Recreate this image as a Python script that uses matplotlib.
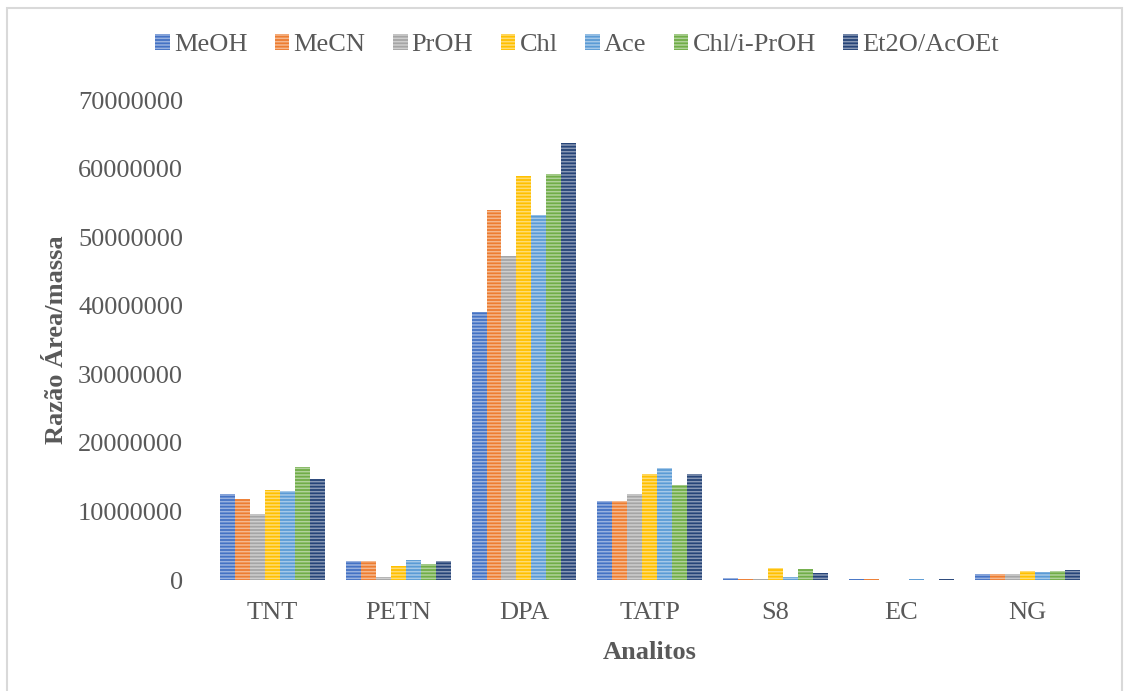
import numpy as np
import matplotlib
matplotlib.use("Agg")
import matplotlib.pyplot as plt
from matplotlib.colors import to_rgb
from matplotlib.patches import Rectangle

plt.rcParams['font.family'] = ['Liberation Serif', 'DejaVu Serif']
plt.rcParams['hatch.linewidth'] = 1.1

analitos = ["TNT", "PETN", "DPA", "TATP", "S8", "EC", "NG"]
solventes = ["MeOH", "MeCN", "PrOH", "Chl", "Ace", "Chl/i-PrOH", "Et2O/AcOEt"]
cores = ["#4472C4", "#ED7D31", "#A5A5A5", "#FFC000", "#5B9BD5", "#70AD47", "#264478"]

# razao area/massa por solvente, na ordem dos analitos
meoh = [12500000, 2800000, 39100000, 11500000, 250000, 100000, 900000]
mecn = [11800000, 2800000, 53900000, 11500000, 150000, 80000, 900000]
proh = [9600000, 500000, 47300000, 12500000, 150000, 0, 900000]
chl = [13100000, 2100000, 58900000, 15400000, 1700000, 0, 1300000]
ace = [13000000, 2900000, 53300000, 16300000, 450000, 80000, 1150000]
chl_iproh = [16500000, 2300000, 59200000, 13900000, 1600000, 0, 1300000]
et2o_acoet = [14700000, 2800000, 63800000, 15500000, 1000000, 80000, 1450000]
series = [meoh, mecn, proh, chl, ace, chl_iproh, et2o_acoet]


def clarear(cor, f=0.45):
    r, g, b = to_rgb(cor)
    return (r + (1 - r) * f, g + (1 - g) * f, b + (1 - b) * f)


fig = plt.figure(figsize=(11.29, 6.91), dpi=100)
ax = fig.add_axes([0.1855, 0.1606, 0.780, 0.6946])

x = np.arange(len(analitos))
n = len(series)
largura = 0.833 / n
for i, (nome, vals, cor) in enumerate(zip(solventes, series, cores)):
    pos = x + (i - (n - 1) / 2) * largura
    ax.bar(pos, vals, width=largura, color=cor, edgecolor=clarear(cor),
           linewidth=0, hatch='-----', label=nome)

ax.set_xlim(-0.5, len(analitos) - 0.5)
ax.set_ylim(0, 70000000)
ax.set_yticks(np.arange(0, 70000001, 10000000))
ax.yaxis.set_major_formatter(matplotlib.ticker.FuncFormatter(lambda v, p: f"{int(v)}"))
ax.set_xticks(x)
ax.set_xticklabels(analitos)
for s in ax.spines.values():
    s.set_visible(False)
ax.tick_params(axis='both', length=0, labelsize=19, colors='#595959')
ax.tick_params(axis='y', pad=19)
ax.tick_params(axis='x', pad=16)

ax.set_ylabel("Razão Área/massa", fontsize=19, fontweight='bold', color='#595959', labelpad=7)
ax.set_xlabel("Analitos", fontsize=19, fontweight='bold', color='#595959', labelpad=12)

leg = ax.legend(loc='center', bbox_to_anchor=(0.511, 0.935), bbox_transform=fig.transFigure,
                ncol=n, frameon=False, fontsize=19, handlelength=0.55, handleheight=0.55,
                handletextpad=0.15, columnspacing=1.05, labelcolor='#595959')

fig.patches.append(Rectangle((0.006, -0.01), 0.988, 0.998, transform=fig.transFigure,
                             fill=False, edgecolor='#D9D9D9', linewidth=1.5))

fig.savefig("out.png", dpi=100)
